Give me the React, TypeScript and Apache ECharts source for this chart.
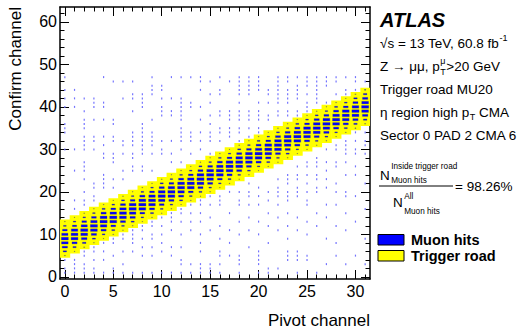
import React, { useEffect, useRef } from "react";
import * as echarts from "echarts";

// ---------- data ----------
const xMajor = [0, 5, 10, 15, 20, 25, 30];
const xMinor = [0, 1, 2, 3, 4, 5, 6, 7, 8, 9, 10, 11, 12, 13, 14, 15, 16, 17, 18, 19, 20, 21, 22, 23, 24, 25, 26, 27, 28, 29, 30, 31];
const yMajor = [0, 10, 20, 30, 40, 50, 60];
const yMinor = [0, 2, 4, 6, 8, 10, 12, 14, 16, 18, 20, 22, 24, 26, 28, 30, 32, 34, 36, 38, 40, 42, 44, 46, 48, 50, 52, 54, 56, 58, 60, 62];

// trigger road: lowest and highest confirm channel per pivot channel
const roadLow = [5, 6, 7, 8, 9, 10, 11, 12, 13, 14, 15, 16, 17, 18, 19, 20, 21, 22, 23, 24, 25, 26, 27, 28, 29, 30, 31, 32, 33, 34, 35, 36];
const roadHigh = [13, 14, 15, 16, 17, 18, 19, 20, 21, 22, 23, 24, 25, 26, 27, 28, 29, 30, 31, 32, 33, 34, 35, 36, 37, 38, 39, 40, 41, 42, 43, 44];

// relative box size of muon hits, for the bins roadLow..roadHigh of each pivot channel
const coreSizes = [
  [0.15, 0.4, 0.62, 0.78, 0.82, 0.74, 0.55, 0.32, 0.12],
  [0.12, 0.38, 0.6, 0.8, 0.8, 0.76, 0.5, 0.3, 0.1],
  [0.15, 0.42, 0.66, 0.8, 0.84, 0.72, 0.55, 0.3, 0.12],
  [0.12, 0.36, 0.62, 0.8, 0.84, 0.76, 0.56, 0.3, 0.1],
  [0.1, 0.32, 0.6, 0.76, 0.84, 0.8, 0.6, 0.36, 0.12],
  [0.12, 0.36, 0.56, 0.8, 0.84, 0.76, 0.56, 0.32, 0.1],
  [0.1, 0.32, 0.6, 0.8, 0.82, 0.76, 0.6, 0.36, 0.12],
  [0.12, 0.36, 0.62, 0.76, 0.84, 0.8, 0.56, 0.3, 0.1],
  [0.1, 0.3, 0.56, 0.8, 0.84, 0.8, 0.6, 0.32, 0.12],
  [0.12, 0.36, 0.6, 0.78, 0.82, 0.76, 0.56, 0.3, 0.1],
  [0.1, 0.32, 0.56, 0.76, 0.84, 0.8, 0.6, 0.36, 0.12],
  [0.12, 0.3, 0.6, 0.8, 0.84, 0.76, 0.56, 0.3, 0.1],
  [0.1, 0.36, 0.6, 0.76, 0.82, 0.8, 0.6, 0.32, 0.12],
  [0.12, 0.32, 0.56, 0.8, 0.84, 0.76, 0.56, 0.3, 0.1],
  [0.1, 0.36, 0.6, 0.8, 0.84, 0.8, 0.6, 0.36, 0.12],
  [0.12, 0.3, 0.6, 0.76, 0.84, 0.8, 0.56, 0.3, 0.1],
  [0.1, 0.3, 0.56, 0.8, 0.84, 0.76, 0.6, 0.32, 0.12],
  [0.12, 0.36, 0.6, 0.78, 0.84, 0.8, 0.56, 0.3, 0.1],
  [0.1, 0.32, 0.6, 0.8, 0.82, 0.78, 0.6, 0.36, 0.12],
  [0.12, 0.34, 0.58, 0.78, 0.84, 0.8, 0.56, 0.3, 0.1],
  [0.1, 0.3, 0.6, 0.8, 0.84, 0.76, 0.58, 0.34, 0.12],
  [0.12, 0.36, 0.62, 0.78, 0.82, 0.8, 0.56, 0.3, 0.1],
  [0.1, 0.32, 0.58, 0.8, 0.84, 0.78, 0.6, 0.34, 0.12],
  [0.12, 0.36, 0.6, 0.76, 0.84, 0.8, 0.58, 0.3, 0.1],
  [0.1, 0.3, 0.6, 0.8, 0.84, 0.78, 0.6, 0.36, 0.12],
  [0.12, 0.36, 0.6, 0.78, 0.82, 0.8, 0.56, 0.32, 0.1],
  [0.1, 0.32, 0.58, 0.8, 0.84, 0.78, 0.6, 0.34, 0.12],
  [0.12, 0.34, 0.62, 0.78, 0.84, 0.8, 0.58, 0.3, 0.1],
  [0.1, 0.3, 0.6, 0.8, 0.84, 0.78, 0.6, 0.36, 0.12],
  [0.12, 0.36, 0.6, 0.78, 0.82, 0.8, 0.56, 0.32, 0.1],
  [0.14, 0.4, 0.62, 0.8, 0.84, 0.78, 0.6, 0.4, 0.15],
  [0.15, 0.42, 0.64, 0.8, 0.84, 0.8, 0.62, 0.42, 0.16],
];

// isolated single hits (confirm channels) per pivot channel
const noiseCols = [
  [47, 44, 42, 40, 36, 35, 34, 30, 4, 2, 1],
  [44, 42, 40, 30, 25, 18, 16, 4, 3, 2, 1],
  [42, 39, 37, 36, 35, 33, 32, 31, 30, 27, 26, 25, 23, 20, 18, 17, 6, 5, 3, 2, 1],
  [42, 41, 40, 37, 33, 32, 30, 22, 21, 19, 18, 7, 6, 4, 2, 1],
  [47, 41, 40, 37, 33, 31, 29, 28, 24, 23, 22, 21, 8, 6, 4, 1],
  [46, 37, 36, 33, 32, 29, 28, 27, 23, 21, 9, 8, 5, 2, 1],
  [46, 42, 32, 31, 29, 25, 23, 10, 9, 6, 3, 1],
  [46, 43, 42, 39, 34, 33, 32, 31, 29, 28, 26, 25, 11, 10, 9, 8, 6, 1],
  [43, 42, 41, 40, 36, 35, 34, 33, 32, 31, 30, 29, 26, 25, 12, 11, 9, 7, 5, 1],
  [47, 45, 44, 43, 37, 34, 33, 32, 31, 29, 25, 13, 12, 10, 9, 7, 5, 1],
  [45, 44, 42, 40, 39, 38, 32, 30, 29, 14, 12, 10, 8, 6, 1],
  [47, 42, 39, 38, 32, 29, 27, 15, 14, 13, 11, 7, 5, 1],
  [47, 42, 41, 40, 39, 38, 37, 35, 34, 33, 32, 30, 27, 16, 15, 13, 10, 7, 4, 3, 1],
  [47, 41, 40, 34, 33, 32, 29, 17, 15, 13, 11, 3, 1],
  [47, 46, 44, 40, 37, 34, 32, 30, 18, 17, 15, 13, 10, 8, 6, 3, 2, 1],
  [46, 43, 41, 38, 36, 34, 33, 32, 29, 19, 17, 14, 11, 3, 2, 1],
  [47, 44, 43, 39, 38, 35, 34, 32, 19, 18, 17, 12, 9, 6, 5, 3, 1],
  [46, 39, 38, 37, 35, 34, 33, 20, 15, 11, 8, 5],
  [47, 46, 45, 44, 43, 41, 39, 38, 37, 35, 34, 32, 20, 18, 17, 13, 10, 5, 4, 3, 1],
  [47, 46, 45, 44, 43, 39, 38, 37, 35, 33, 22, 20, 19, 17, 14, 11, 7],
  [47, 46, 45, 44, 41, 39, 38, 37, 35, 34, 21, 19, 17, 13, 10, 6, 5, 4, 3, 1],
  [44, 43, 41, 38, 37, 20, 18, 15, 12, 8, 2, 1],
  [47, 46, 45, 44, 43, 42, 41, 39, 38, 23, 21, 20, 19, 17, 14, 11, 2],
  [47, 46, 44, 43, 42, 41, 39, 38, 24, 23, 22, 20, 19, 18, 15, 12, 9, 6, 5, 4],
  [47, 45, 44, 43, 42, 39, 38, 26, 24, 23, 21, 20, 19, 14, 11, 6, 5, 4, 1],
  [47, 46, 45, 43, 41, 40, 39, 27, 26, 24, 22, 20, 18, 17, 13, 10, 5, 4],
  [47, 46, 45, 44, 43, 42, 41, 28, 27, 26, 24, 23, 21, 20, 15, 12, 1],
  [47, 46, 45, 41, 30, 27, 25, 23, 21, 17, 14, 9, 3],
  [47, 46, 43, 31, 30, 27, 26, 22, 20, 17, 12, 8, 5],
  [47, 44, 43, 32, 31, 30, 29, 27, 24, 20, 19, 15, 11, 3],
  [47, 46, 44, 34, 32, 30, 29, 26, 24, 19, 13, 5],
  [46, 34, 32, 31, 29, 22, 16, 9, 3],
];

// ---------- helpers ----------
const FONT = "'Liberation Sans', Arial, Helvetica, sans-serif";
let measureCtx: CanvasRenderingContext2D | null = null;
function measure(text: string, size: number, weight = "normal", style = "normal") {
  if (!measureCtx) measureCtx = document.createElement("canvas").getContext("2d");
  measureCtx!.font = `${style} ${weight} ${size}px ${FONT}`;
  return measureCtx!.measureText(text).width;
}
function txt(text: string, x: number, y: number, size: number, opts: any = {}) {
  return {
    type: "text",
    x,
    y,
    silent: true,
    rotation: opts.rotation || 0,
    style: {
      text,
      fontSize: size,
      fontFamily: FONT,
      fontWeight: opts.weight || "normal",
      fontStyle: opts.style || "normal",
      fill: "#000",
      align: opts.align || "left",
      verticalAlign: "middle",
    },
  };
}

function buildGraphic() {
  const g: any[] = [];
  const X0 = 380;
  const base = 13.5;
  const small = 9;
  // axis titles
  g.push(txt("Confirm channel", 15, 7, 17, { align: "right", rotation: Math.PI / 2 }));
  g.push(txt("Pivot channel", 370, 320, 17, { align: "right" }));
  // ATLAS
  g.push(txt("ATLAS", X0, 20, 20, { weight: "bold", style: "italic" }));
  // line 2
  const l2 = "√s = 13 TeV, 60.8 fb";
  g.push(txt(l2, X0, 43, base));
  g.push(txt("-1", X0 + measure(l2, base) + 0.5, 38, small));
  // line 3
  const l3a = "Z → μμ, p";
  const w3 = measure(l3a, base);
  g.push(txt(l3a, X0, 66, base));
  g.push(txt("μ", X0 + w3 + 0.5, 61, small));
  g.push(txt("T", X0 + w3 + 0.5, 71.5, small));
  g.push(txt(">20 GeV", X0 + w3 + 0.5 + Math.max(measure("μ", small), measure("T", small)) + 0.5, 66, base));
  // line 4
  g.push(txt("Trigger road MU20", X0, 89, base));
  // line 5
  const l5a = "η region high p";
  const w5 = measure(l5a, base);
  g.push(txt(l5a, X0, 112, base));
  g.push(txt("T", X0 + w5 + 0.5, 117, small));
  g.push(txt(" CMA", X0 + w5 + 0.5 + measure("T", small), 112, base));
  // line 6
  g.push(txt("Sector 0 PAD 2 CMA 6", X0, 135, base));
  // fraction
  const fs = 8.2;
  const nW = measure("N", base);
  g.push(txt("N", 380, 175, base));
  g.push(txt("Inside trigger road", 380 + nW + 1.5, 166.5, fs));
  g.push(txt("Muon hits", 380 + nW + 1.5, 180.5, fs));
  g.push({ type: "line", silent: true, shape: { x1: 379, y1: 186, x2: 453, y2: 186 }, style: { stroke: "#000", lineWidth: 1 } });
  g.push(txt("= 98.26%", 455, 186.5, base));
  g.push(txt("N", 393, 202.5, base));
  g.push(txt("All", 393 + nW + 1.5, 196.5, fs));
  g.push(txt("Muon hits", 393 + nW + 1.5, 211, fs));
  // legend
  g.push({ type: "rect", silent: true, shape: { x: 378, y: 234.5, width: 26, height: 10.5 }, style: { fill: "#0000ff", stroke: "#000", lineWidth: 1 } });
  g.push({ type: "rect", silent: true, shape: { x: 378, y: 250.5, width: 26, height: 10.5 }, style: { fill: "#ffff00", stroke: "#000", lineWidth: 1 } });
  g.push(txt("Muon hits", 411, 239.5, 14.5, { weight: "bold" }));
  g.push(txt("Trigger road", 411, 256, 14.5, { weight: "bold" }));
  return g;
}

function xAxisDef(position: string, ticks: number[], len: number, showLine: boolean, labels: boolean) {
  return {
    type: "value",
    min: -0.5,
    max: 31.5,
    position,
    axisLine: { show: showLine, onZero: false, lineStyle: { color: "#000", width: 1.5 } },
    axisTick: { show: true, inside: true, length: len, customValues: ticks, lineStyle: { color: "#000", width: 1 } },
    axisLabel: labels
      ? { show: true, customValues: ticks, fontSize: 16, fontFamily: FONT, color: "#000", margin: 4 }
      : { show: false },
    splitLine: { show: false },
  };
}
function yAxisDef(position: string, ticks: number[], len: number, showLine: boolean, labels: boolean) {
  return {
    type: "value",
    min: -0.5,
    max: 63.5,
    position,
    axisLine: { show: showLine, onZero: false, lineStyle: { color: "#000", width: 1.5 } },
    axisTick: { show: true, inside: true, length: len, customValues: ticks, lineStyle: { color: "#000", width: 1 } },
    axisLabel: labels
      ? { show: true, customValues: ticks, fontSize: 16, fontFamily: FONT, color: "#000", margin: 3 }
      : { show: false },
    splitLine: { show: false },
  };
}

export default function App() {
  const ref = useRef<HTMLDivElement>(null);
  useEffect(() => {
    if (!ref.current) return;
    const chart = echarts.init(ref.current, null, { renderer: "svg" });

    const roadData = roadLow.map((lo, i) => [i, lo, roadHigh[i]]);
    const coreData: number[][] = [];
    coreSizes.forEach((arr, i) => arr.forEach((s, j) => coreData.push([i, roadLow[i] + j, s])));
    const noiseData: number[][] = [];
    noiseCols.forEach((ys, i) => ys.forEach((y) => noiseData.push([i, y])));

    chart.setOption({
      animation: false,
      backgroundColor: "#fff",
      grid: { left: 60, right: 159, top: 7, bottom: 50, containLabel: false },
      xAxis: [
        xAxisDef("bottom", xMajor, 9, true, true),
        xAxisDef("bottom", xMinor, 4.5, false, false),
        xAxisDef("top", xMajor, 9, true, false),
        xAxisDef("top", xMinor, 4.5, false, false),
      ],
      yAxis: [
        yAxisDef("left", yMajor, 9, true, true),
        yAxisDef("left", yMinor, 4.5, false, false),
        yAxisDef("right", yMajor, 9, true, false),
        yAxisDef("right", yMinor, 4.5, false, false),
      ],
      series: [
        {
          type: "custom",
          name: "Trigger road",
          xAxisIndex: 0,
          yAxisIndex: 0,
          clip: true,
          silent: true,
          data: roadData,
          renderItem: (params: any, api: any) => {
            const x = api.value(0);
            const lo = api.value(1);
            const hi = api.value(2);
            const p1 = api.coord([x - 0.5, hi + 0.5]);
            const p2 = api.coord([x + 0.5, lo - 0.5]);
            return {
              type: "rect",
              shape: { x: p1[0], y: p1[1], width: p2[0] - p1[0] + 0.5, height: p2[1] - p1[1] },
              style: { fill: "#ffff00" },
            };
          },
        },
        {
          type: "custom",
          name: "Noise hits",
          xAxisIndex: 0,
          yAxisIndex: 0,
          clip: true,
          silent: true,
          data: noiseData,
          renderItem: (params: any, api: any) => {
            const c = api.coord([api.value(0), api.value(1)]);
            return {
              type: "rect",
              shape: { x: c[0] - 0.6, y: c[1] - 1, width: 1.2, height: 2 },
              style: { fill: "#7373ff" },
            };
          },
        },
        {
          type: "custom",
          name: "Muon hits",
          xAxisIndex: 0,
          yAxisIndex: 0,
          clip: true,
          silent: true,
          data: coreData,
          renderItem: (params: any, api: any) => {
            const c = api.coord([api.value(0), api.value(1)]);
            const sz = api.size([1, 1]);
            const s = api.value(2);
            const w = sz[0] * s * 0.88;
            const h = sz[1] * s * 0.75;
            return {
              type: "rect",
              shape: { x: c[0] - w / 2, y: c[1] - h / 2, width: w, height: h },
              style: { fill: "#0000ff", stroke: "rgba(60,60,110,0.45)", lineWidth: 0.6 },
            };
          },
        },
      ],
      graphic: buildGraphic(),
    });
    return () => chart.dispose();
  }, []);
  return <div ref={ref} style={{ position: "absolute", left: 0, top: 0, width: 529, height: 329 }} />;
}
